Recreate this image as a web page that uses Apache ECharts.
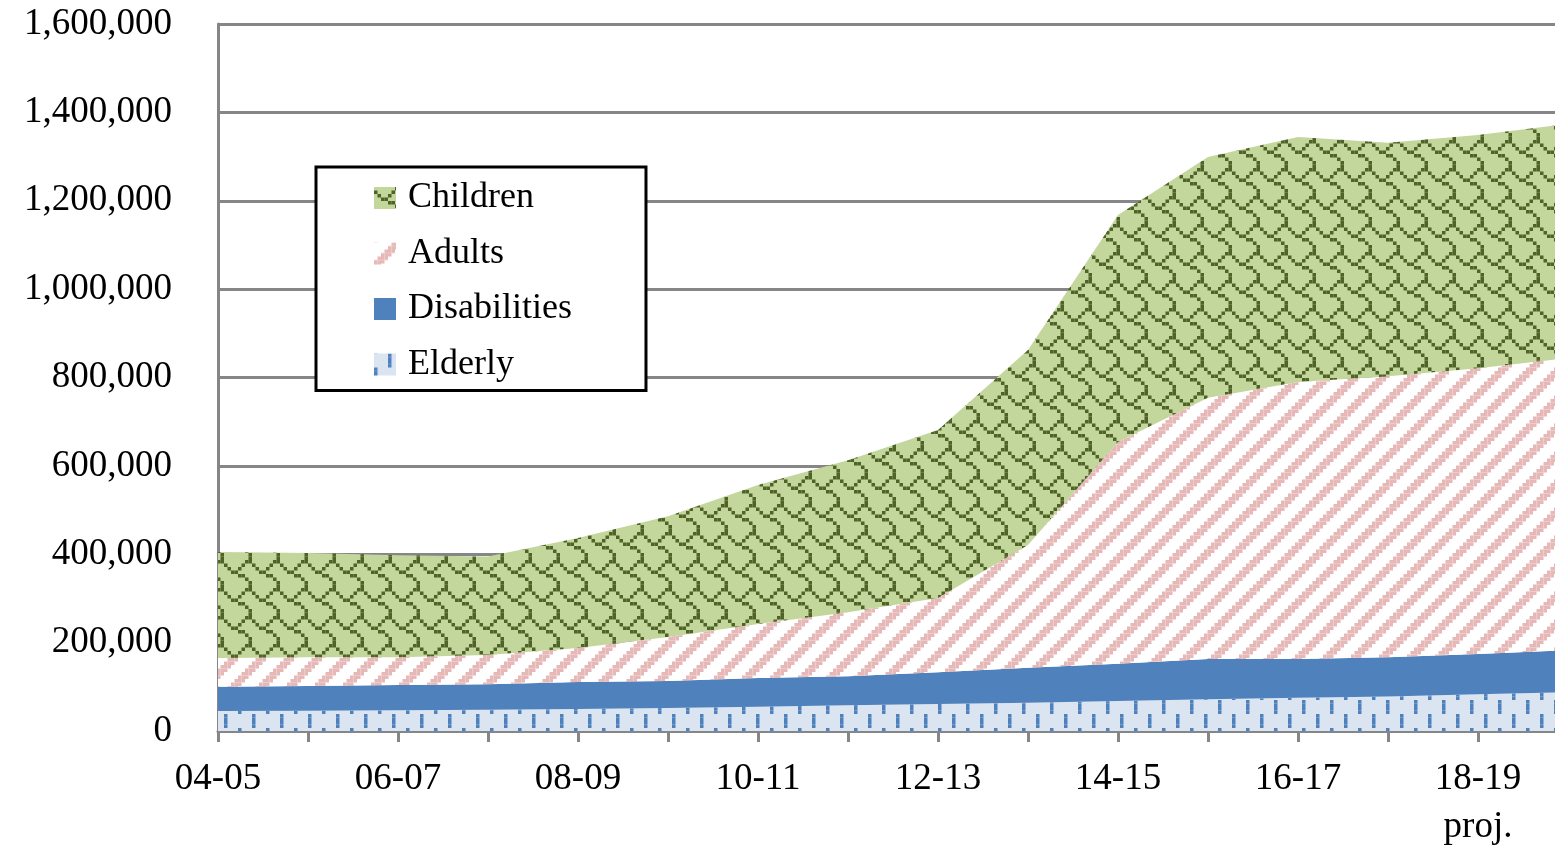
<!DOCTYPE html>
<html>
<head>
<meta charset="utf-8">
<script src="https://cdn.jsdelivr.net/npm/echarts@6/dist/echarts.min.js"></script>
<style>
html, body { margin: 0; padding: 0; background: #fff; }
#chart { width: 1555px; height: 853px; }
</style>
</head>
<body>
<div id="chart"></div>
<script>
// years on the x axis, the last ones are projections
const years = ['04-05', '05-06', '06-07', '07-08', '08-09', '09-10', '10-11', '11-12',
  '12-13', '13-14', '14-15', '15-16', '16-17', '17-18', '18-19', '19-20']
const projected = ['18-19', '19-20']

// values per group (stacked, bottom to top)
const elderly = [45000, 46000, 47000, 48000, 50000, 52000, 55000, 58000,
  61000, 64000, 68000, 72000, 75000, 78000, 83000, 88000]
const disabilities = [55000, 56000, 57000, 58000, 61000, 61000, 65000, 66000,
  72000, 79000, 84000, 91000, 88000, 89000, 91000, 95000]
const adults = [65000, 65000, 63000, 66000, 77000, 100000, 122000, 145000,
  168000, 278000, 502000, 591000, 627000, 636000, 647000, 661000]
const children = [240000, 236000, 231000, 223000, 249000, 273000, 315000, 344000,
  380000, 441000, 514000, 545000, 554000, 528000, 528000, 530000]

const FONT = '"Liberation Serif", "DejaVu Serif", serif'

// 8x8 excel-like hatch, scaled up to a 28px tile
function hatch(rows, fg, bg) {
  const s = 3.5
  const c = document.createElement('canvas')
  c.width = 28
  c.height = 28
  const ctx = c.getContext('2d')
  ctx.fillStyle = bg
  ctx.fillRect(0, 0, 28, 28)
  ctx.fillStyle = fg
  rows.forEach((row, y) => {
    for (let x = 0; x < 8; x++) {
      if (row[x] === '1') ctx.fillRect(x * s, y * s, s, s)
    }
  })
  return { image: c, repeat: 'repeat' }
}

const shingle = hatch([
  '00000011',
  '10000100',
  '01001000',
  '00110000',
  '00001100',
  '00000010',
  '00000001',
  '00000001'
], '#4f6228', '#c3d69b')

const upDiagonal = hatch([
  '00000111',
  '00001110',
  '00011100',
  '00111000',
  '01110000',
  '11100000',
  '11000001',
  '10000011'
], '#e6b9b8', '#ffffff')

const dashedVert = hatch([
  '00001000',
  '00001000',
  '00001000',
  '00001000',
  '10000000',
  '10000000',
  '10000000',
  '10000000'
], '#4f81bd', '#dbe5f1')

const fills = {
  Elderly: dashedVert,
  Disabilities: '#4f81bd',
  Adults: upDiagonal,
  Children: shingle
}

const makeSeries = (name, data) => ({
  name,
  type: 'line',
  stack: 'total',
  data,
  symbol: 'none',
  lineStyle: { width: 0 },
  itemStyle: { color: fills[name] },
  areaStyle: { color: fills[name], opacity: 1 },
  emphasis: { disabled: true }
})

const chart = echarts.init(document.getElementById('chart'))

chart.setOption({
  animation: false,
  backgroundColor: '#fff',
  // the last year runs a little past the right edge
  grid: { left: 218, top: 24, right: -13, bottom: 122, outerBoundsMode: 'none' },
  legend: {
    orient: 'vertical',
    left: 316,
    top: 167,
    padding: [13, 74, 8, 58],
    backgroundColor: '#fff',
    borderColor: '#000',
    borderWidth: 3,
    itemWidth: 22,
    itemHeight: 22,
    itemGap: 19.5,
    icon: 'rect',
    textStyle: { fontFamily: FONT, fontSize: 36, color: '#000', lineHeight: 34, padding: [0, 0, 0, 7] },
    data: ['Children', 'Adults', 'Disabilities', 'Elderly'].map(n => ({
      name: n,
      itemStyle: { color: fills[n] }
    }))
  },
  xAxis: {
    type: 'category',
    data: years,
    boundaryGap: false,
    axisLine: { lineStyle: { color: '#868686', width: 3 } },
    axisTick: { show: true, interval: 0, length: 11, lineStyle: { color: '#868686', width: 3 } },
    axisLabel: {
      interval: 1,
      margin: 24,
      fontFamily: FONT,
      fontSize: 37,
      color: '#000',
      lineHeight: 48,
      formatter: v => projected.includes(v) ? v + '\nproj.' : v
    },
    splitLine: { show: false }
  },
  yAxis: {
    type: 'value',
    min: 0,
    max: 1600000,
    interval: 200000,
    axisLine: { show: true, lineStyle: { color: '#868686', width: 3 } },
    axisTick: { show: false },
    axisLabel: {
      margin: 46,
      fontFamily: FONT,
      fontSize: 37,
      color: '#000',
      formatter: v => v.toLocaleString('en-US')
    },
    splitLine: { lineStyle: { color: '#868686', width: 3 } }
  },
  series: [
    makeSeries('Elderly', elderly),
    makeSeries('Disabilities', disabilities),
    makeSeries('Adults', adults),
    makeSeries('Children', children)
  ]
})
</script>
</body>
</html>
